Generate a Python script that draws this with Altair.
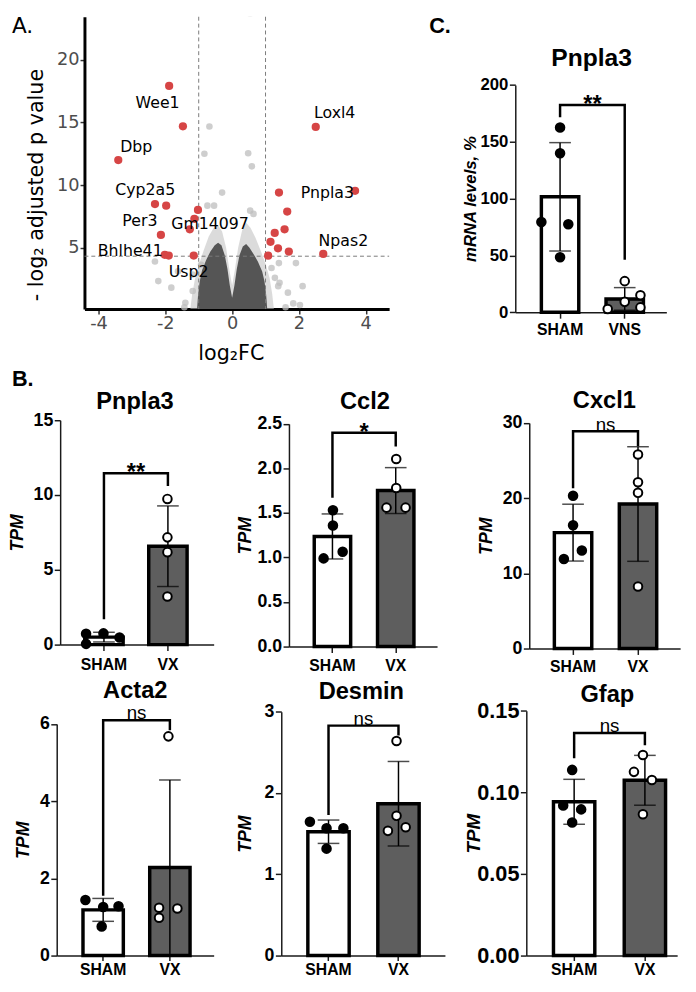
import altair as alt
import pandas as pd

FONT = "Liberation Sans"
VFONT = "DejaVu Sans"

# ======================= DATA =======================
# ---- Panel A: volcano plot ----
sig_fc = [-1.885, -1.473, -3.408, -2.309, -1.974, -1.022, -1.13, -1.267, -2.132, -2.015, -1.897, -1.149,
          2.503, 1.402, 3.68, 1.649, 1.570, 1.275, 1.149, 1.373, 1.697, 2.728, 1.078]
sig_p = [17.92, 14.70, 12.0, 8.49, 8.36, 8.02, 7.31, 6.47, 6.02, 4.43, 4.37, 4.37,
         14.65, 9.40, 9.54, 7.89, 6.47, 6.18, 5.47, 4.95, 4.69, 4.50, 4.36]
bg_fc = [0.54, -0.68, -0.83, 0.48, 0.59, -0.30, -0.54, 0.54, 0.64, 1.40, 1.91, 1.42, 2.11, 1.67, 1.83,
         2.03, 1.60, 1.18, 1.28, 1.38, -2.31, -2.21, -1.82, -1.62, -1.18, -1.18, -1.43, -1.40, -0.93, -0.74]
bg_p = [23.7, 14.68, 12.5, 12.55, 11.5, 9.4, 8.36, 7.96, 7.7, 3.77, 3.77, 2.2, 1.93, 1.41, 0.55,
        0.42, 0.24, 3.38, 2.59, 1.93, 3.9, 2.33, 1.81, 3.11, 2.85, 1.54, 0.24, 0.6, 3.64, 8.36]
core_fc = [-1.05, -1.02, -0.97, -0.9, -0.78, -0.65, -0.52, -0.42, -0.32, -0.22, -0.14, -0.07, 0.0,
           0.07, 0.14, 0.22, 0.32, 0.42, 0.52, 0.64, 0.77, 0.9, 0.97, 1.02, 1.05]
core_p = [0.1, 1.2, 2.3, 3.2, 4.0, 4.7, 5.2, 5.4, 5.2, 4.4, 3.3, 2.0, 1.0,
          2.0, 3.3, 4.4, 5.1, 5.3, 5.0, 4.5, 3.9, 3.1, 2.3, 1.2, 0.1]
halo_fc = [-1.25, -1.2, -1.12, -1.0, -0.85, -0.7, -0.55, -0.42, -0.3, -0.18, -0.08, 0.0,
           0.08, 0.18, 0.3, 0.42, 0.55, 0.7, 0.85, 1.0, 1.12, 1.2, 1.25]
halo_p = [0.1, 1.2, 2.4, 3.6, 4.8, 5.9, 6.6, 6.8, 6.3, 5.0, 3.2, 2.0,
          3.2, 5.0, 6.4, 7.0, 6.6, 5.8, 4.8, 3.7, 2.6, 1.3, 0.1]
gene_names = ["Wee1", "Loxl4", "Dbp", "Cyp2a5", "Pnpla3", "Per3", "Gm14097", "Bhlhe41", "Usp2", "Npas2"]
gene_fc = [-2.23, 3.07, -2.87, -2.60, 2.85, -2.76, -0.66, -3.05, -1.30, 3.33]
gene_p = [16.55, 15.76, 13.07, 9.6, 9.34, 7.11, 6.92, 4.69, 3.07, 5.54]
fc_cutoffs = [-1, 1]
p_cutoff = [4.32]
vol_x_domain = [-4.42, 4.7]
vol_y_domain = [0.1, 23.45]

# ---- Panel B: TPM bar charts ----
groups_b = ["SHAM", "VX"]
pnpla3_sham = [0.72, 0.75, 0.48, 0.05]
pnpla3_sham_jit = [-0.93, 0.0, 0.86, -0.93]
pnpla3_vx = [9.74, 7.17, 6.18, 3.22]
pnpla3_vx_jit = [0.0, 0.0, 0.0, 0.0]
pnpla3_bracket = [1.7, 11.45, 11.45, 10.6]

ccl2_sham = [1.53, 1.36, 1.065, 0.99]
ccl2_sham_jit = [0.0, 0.0, 0.52, -0.5]
ccl2_vx = [2.105, 1.78, 1.56, 1.56]
ccl2_vx_jit = [0.0, 0.0, -0.52, 0.5]
ccl2_bracket = [1.67, 2.40, 2.40, 2.245]

cxcl1_sham = [20.3, 16.4, 13.04, 11.9]
cxcl1_sham_jit = [0.0, 0.0, 0.47, -0.49]
cxcl1_vx = [25.8, 22.1, 20.7, 8.25]
cxcl1_vx_jit = [0.0, 0.0, 0.0, 0.0]
cxcl1_bracket = [21.3, 28.9, 28.9, 26.9]

acta2_sham = [1.44, 1.26, 1.28, 0.756]
acta2_sham_jit = [-0.87, 0.08, 0.9, 0.0]
acta2_vx = [1.24, 0.98, 1.22, 5.68]
acta2_vx_jit = [-0.5, -0.5, 0.48, 0.0]
acta2_bracket = [1.55, 6.1, 6.1, 5.84]

desmin_sham = [1.647, 1.567, 1.567, 1.316]
desmin_sham_jit = [-0.89, 0.0, 0.9, 0.0]
desmin_vx = [1.72, 1.535, 1.58, 2.64]
desmin_vx_jit = [0.0, -0.46, 0.49, 0.0]
desmin_bracket = [1.73, 2.83, 2.83, 2.71]

gfap_sham = [0.1138, 0.092, 0.0896, 0.0816]
gfap_sham_jit = [0.0, -0.48, 0.48, 0.0]
gfap_vx = [0.1229, 0.1126, 0.1076, 0.0866]
gfap_vx_jit = [0.0, -0.48, 0.48, 0.0]
gfap_bracket = [0.121, 0.1364, 0.1364, 0.1289]

# ---- Panel C: qPCR ----
groups_c = ["SHAM", "VNS"]
c_sham = [162.6, 140.0, 79.4, 77.4, 48.5]
c_sham_jit = [0.0, 0.0, -1.0, 0.44, 0.0]
c_vns = [27.4, 2.9, 9.2, 15.0, 4.3]
c_vns_jit = [0.0, -0.91, 0.0, 0.84, 0.84]
c_bracket = [171.6, 182.4, 182.4, 46.2]

# significance labels and their heights
sig_text = {"pnpla3": "**", "ccl2": "*", "cxcl1": "ns", "acta2": "ns", "desmin": "ns", "gfap": "ns", "c": "**"}
sig_height = {"pnpla3": 11.9, "ccl2": 2.47, "cxcl1": 29.7, "acta2": 6.28, "desmin": 2.91, "gfap": 0.1405, "c": 188.7}

# ======================= LAYOUT (page pixels) =======================
GEO = {
    "vol": dict(box=(8, 8, 392, 354), axis=81.7, end=391.3, top=8, zero=305),
    "c": dict(box=(400, 8, 288, 354), axis=519.5, end=673, c1=565, c2=630.7, bw=38, top=77.3, zero=308.3,
              title=(597, 50), title_size=25, ytx=474, xtick=6, xpad=4, ylab=17),
    "pnpla3": dict(box=(8, 362, 228, 314), axis=57, end=213, c1=101.5, c2=166.5, bw=39, top=418, zero=646,
                   title=(133, 400), title_size=24, ytx=13.5, xtick=6, xpad=6, ylab=18),
    "ccl2": dict(box=(236, 362, 232, 314), axis=282.5, end=433, c1=326.7, c2=391, bw=37, top=421.7, zero=648,
                 title=(359.7, 400), title_size=24, ytx=238, xtick=6, xpad=5, ylab=18),
    "cxcl1": dict(box=(468, 362, 220, 314), axis=526.7, end=680, c1=571.2, c2=637.2, bw=38, top=420.7, zero=650,
                  title=(603, 398.3), title_size=24, ytx=483.7, xtick=6, xpad=4, ylab=18),
    "acta2": dict(box=(8, 676, 228, 308), axis=53.5, end=213, c1=100.7, c2=168.5, bw=41, top=726.7, zero=962,
                  title=(133.3, 693.3), title_size=24, ytx=19.7, xtick=5, xpad=1, ylab=18),
    "desmin": dict(box=(236, 676, 232, 308), axis=281.7, end=448, c1=329.7, c2=400.8, bw=42, top=714.3, zero=962,
                   title=(363, 694), title_size=24, ytx=245.5, xtick=5, xpad=1, ylab=18),
    "gfap": dict(box=(468, 676, 220, 308), axis=526.7, end=680, c1=575.3, c2=647.2, bw=42, top=713.3, zero=962,
                 title=(609, 697.5), title_size=24, ytx=473, xtick=5, xpad=1, ylab=22),
}


def text_layer(txt, x, y, size, weight="bold", align="center", baseline="middle", font=FONT):
    return alt.Chart(pd.DataFrame({"t": [txt]})).mark_text(
        font=font, fontSize=size, fontWeight=weight, align=align, baseline=baseline, color="black"
    ).encode(x=alt.value(x), y=alt.value(y), text="t:N")


def bar_panel(key, groups, a_vals, a_jit, b_vals, b_jit, ymax, yticks, yfmt, ytitle, ytitle_size,
              bracket, gene, letter=None):
    geo = GEO[key]
    bx, by, W, H = geo["box"]
    m = geo["axis"] - bx
    xe = geo["end"] - bx
    step = geo["c2"] - geo["c1"]
    band = geo["bw"]
    L = geo["c1"] - band / 2 - geo["axis"]
    R = geo["end"] - geo["c2"] - band / 2
    t = geo["top"] - by
    y0 = geo["zero"] - by
    xsc = alt.Scale(domain=groups, range=[m, xe], paddingInner=1 - band / step,
                    paddingOuter=(L + R) / (2 * step), align=L / (L + R), round=False)
    ysc = alt.Scale(domain=[0, ymax], range=[y0, t], nice=False, zero=False)
    xax = alt.Axis(title=None, labelAngle=0, labelFont=FONT, labelFontSize=16, labelFontWeight="bold",
                   labelColor="black", domainColor="#1a1a1a", domainWidth=1.5, tickColor="#1a1a1a",
                   tickWidth=1.5, tickSize=geo["xtick"], labelPadding=geo["xpad"], offset=-(H - y0), grid=False)
    yax = alt.Axis(values=yticks, format=yfmt, title=ytitle, titleFont=FONT, titleFontSize=ytitle_size,
                   titleFontStyle="italic", titleFontWeight="bold", titleColor="black",
                   titleX=geo["ytx"] - geo["axis"], titleBaseline="middle", titleAngle=270,
                   labelFont=FONT, labelFontSize=geo["ylab"], labelFontWeight="bold", labelColor="black",
                   domainColor="#1a1a1a", domainWidth=1.5, tickColor="#1a1a1a", tickWidth=1.5,
                   tickSize=6, labelPadding=1.5, offset=-m, grid=False)
    X = alt.X("group:N", scale=xsc, axis=xax)

    def Y(f):
        return alt.Y(f, scale=ysc, axis=yax)

    pts = pd.DataFrame({"group": [groups[0]] * len(a_vals) + [groups[1]] * len(b_vals),
                        "value": a_vals + b_vals, "jit": a_jit + b_jit})
    base = alt.Chart(pts)
    bars = base.mark_bar(stroke="black", strokeWidth=3.5, width=band).encode(
        x=X, y=Y("mean(value):Q"),
        fill=alt.Fill("group:N", scale=alt.Scale(domain=groups, range=["white", "#5E5E5E"]), legend=None))
    stats = base.transform_aggregate(mu="mean(value)", sd="stdev(value)", groupby=["group"]).transform_calculate(
        lo="datum.mu - datum.sd", hi="datum.mu + datum.sd")
    err = stats.mark_rule(color="black", strokeWidth=1.5).encode(x=X, y=Y("lo:Q"), y2="hi:Q")
    caps = stats.transform_fold(["lo", "hi"], as_=["k", "v"]).mark_tick(
        color="black", thickness=1.5, size=22).encode(x=X, y=Y("v:Q"))
    dots = base.mark_point(shape="circle", filled=True, size=76, stroke="black", strokeWidth=2, opacity=1).encode(
        x=X, xOffset=alt.XOffset("jit:Q", scale=alt.Scale(domain=[-1, 1], range=[0, band])),
        y=Y("value:Q"),
        fill=alt.Fill("group:N", scale=alt.Scale(domain=groups, range=["black", "white"]), legend=None))
    br = pd.DataFrame({"group": [groups[0], groups[0], groups[1], groups[1]], "y": bracket, "o": [0, 1, 2, 3]})
    brk = alt.Chart(br).mark_line(color="black", strokeWidth=2.5, strokeJoin="miter", strokeCap="butt").encode(
        x=X, y=Y("y:Q"), order="o:Q")
    s = sig_text[key]
    star = "*" in s
    sdf = pd.DataFrame({"group": [groups[0]], "y": [sig_height[key]], "t": [s]})
    stxt = alt.Chart(sdf).mark_text(font=FONT, fontSize=24 if star else 19,
                                    fontWeight="bold" if star else "normal",
                                    dx=step / 2, dy=7 if star else 0, baseline="middle", color="black").encode(
        x=X, y=Y("y:Q"), text="t:N")
    layers = [bars, err, caps, dots, brk, stxt,
              text_layer(gene, geo["title"][0] - bx, geo["title"][1] - by, geo["title_size"])]
    if letter is not None:
        layers.append(text_layer(letter[0], letter[1], letter[2], 22, align="left", baseline="top"))
    return alt.layer(*layers).resolve_scale(fill="independent").properties(width=W, height=H)


def volcano():
    geo = GEO["vol"]
    bx, by, W, H = geo["box"]
    m = geo["axis"] - bx
    xe = geo["end"] - bx
    y0 = geo["zero"] - by
    t = geo["top"] - by
    xsc = alt.Scale(domain=vol_x_domain, range=[m, xe], nice=False, zero=False)
    ysc = alt.Scale(domain=vol_y_domain, range=[y0, t], nice=False, zero=False)
    xax = alt.Axis(values=[-4, -2, 0, 2, 4], title="log\u2082FC", titleFont=VFONT, titleFontSize=21,
                   titleFontWeight="normal", titleColor="black", titleX=222.5, titleY=45,
                   titleBaseline="middle", labelFont=VFONT, labelFontSize=18, labelColor="#4D4D4D",
                   labelExpr="replace(datum.label, '\u2212', '-')", domainColor="black", domainWidth=3,
                   tickColor="#333333", tickWidth=1.5, tickSize=5, labelPadding=1, offset=-(H - y0), grid=False)
    yax = alt.Axis(values=[5, 10, 15, 20], title="- log\u2082 adjusted p value", titleFont=VFONT, titleFontSize=21,
                   titleFontWeight="normal", titleColor="black", titleX=33.5 - geo["axis"], titleY=170.5,
                   titleBaseline="middle", titleAngle=270, labelFont=VFONT, labelFontSize=18,
                   labelColor="#4D4D4D", domainColor="black", domainWidth=3, tickColor="#333333",
                   tickWidth=1.5, tickSize=4.5, labelPadding=1, offset=-m, grid=False)
    X = alt.X("fc:Q", scale=xsc, axis=xax)
    Y = alt.Y("p:Q", scale=ysc, axis=yax)
    halo = alt.Chart(pd.DataFrame({"fc": halo_fc, "p": halo_p})).mark_area(
        color="#BDBDBD", opacity=0.55).encode(x=X, y=Y, y2=alt.datum(vol_y_domain[0]))
    core = alt.Chart(pd.DataFrame({"fc": core_fc, "p": core_p})).mark_area(
        color="#555555").encode(x=X, y=Y, y2=alt.datum(vol_y_domain[0]))
    bg = alt.Chart(pd.DataFrame({"fc": bg_fc, "p": bg_p})).mark_circle(
        color="#BDBDBD", opacity=0.75, size=45, clip=True).encode(x=X, y=Y)
    vl = alt.Chart(pd.DataFrame({"fc": fc_cutoffs})).mark_rule(
        color="#7A7A7A", strokeWidth=1, strokeDash=[4, 3]).encode(
        x=X, y=alt.datum(vol_y_domain[1]), y2=alt.datum(vol_y_domain[0]))
    hl = alt.Chart(pd.DataFrame({"p": p_cutoff})).mark_rule(
        color="#7A7A7A", strokeWidth=1, strokeDash=[4, 3]).encode(
        y=Y, x=alt.datum(vol_x_domain[0]), x2=alt.datum(vol_x_domain[1]))
    sig = alt.Chart(pd.DataFrame({"fc": sig_fc, "p": sig_p})).mark_circle(
        color="#D64545", opacity=1, size=70).encode(x=X, y=Y)
    lab = alt.Chart(pd.DataFrame({"fc": gene_fc, "p": gene_p, "g": gene_names})).mark_text(
        font=VFONT, fontSize=16, color="black", baseline="middle").encode(x=X, y=Y, text="g:N")
    letter = text_layer("A.", 0, 0, 22, weight="normal", align="left", baseline="top", font=VFONT)
    return alt.layer(halo, core, bg, vl, hl, sig, lab, letter).properties(width=W, height=H)


vol = volcano()
pc = bar_panel("c", groups_c, c_sham, c_sham_jit, c_vns, c_vns_jit, 200, [0, 50, 100, 150, 200], "d",
               "mRNA levels, %", 17, c_bracket, "Pnpla3", letter=("C.", 32, 0))
b1 = bar_panel("pnpla3", groups_b, pnpla3_sham, pnpla3_sham_jit, pnpla3_vx, pnpla3_vx_jit, 15,
               [0, 5, 10, 15], "d", "TPM", 18, pnpla3_bracket, "Pnpla3", letter=("B.", 0, 4.4))
b2 = bar_panel("ccl2", groups_b, ccl2_sham, ccl2_sham_jit, ccl2_vx, ccl2_vx_jit, 2.5,
               [0, 0.5, 1.0, 1.5, 2.0, 2.5], ".1f", "TPM", 18, ccl2_bracket, "Ccl2")
b3 = bar_panel("cxcl1", groups_b, cxcl1_sham, cxcl1_sham_jit, cxcl1_vx, cxcl1_vx_jit, 30,
               [0, 10, 20, 30], "d", "TPM", 18, cxcl1_bracket, "Cxcl1")
b4 = bar_panel("acta2", groups_b, acta2_sham, acta2_sham_jit, acta2_vx, acta2_vx_jit, 6,
               [0, 2, 4, 6], "d", "TPM", 18, acta2_bracket, "Acta2")
b5 = bar_panel("desmin", groups_b, desmin_sham, desmin_sham_jit, desmin_vx, desmin_vx_jit, 3,
               [0, 1, 2, 3], "d", "TPM", 18, desmin_bracket, "Desmin")
b6 = bar_panel("gfap", groups_b, gfap_sham, gfap_sham_jit, gfap_vx, gfap_vx_jit, 0.15,
               [0, 0.05, 0.10, 0.15], ".2f", "TPM", 19, gfap_bracket, "Gfap")

chart = alt.vconcat(
    alt.hconcat(vol, pc, spacing=0),
    alt.hconcat(b1, b2, b3, spacing=0),
    alt.hconcat(b4, b5, b6, spacing=0),
    spacing=0,
).properties(padding=0, background="white").configure_view(strokeWidth=0)

chart.save("out.html", embed_options={"renderer": "svg", "actions": False})
